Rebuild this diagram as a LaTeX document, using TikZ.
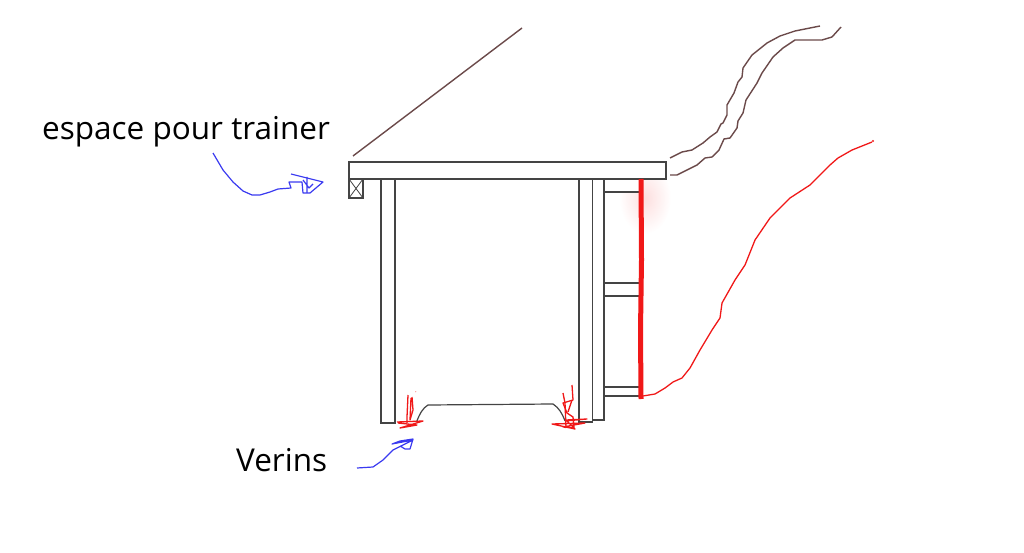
\documentclass[tikz,border=0pt]{standalone}
\usepackage{fontspec}
\setmainfont{Open Sans}
\definecolor{trait}{HTML}{444444}
\definecolor{brun}{HTML}{6B4A4A}
\definecolor{bleu}{HTML}{3A3AF0}
\definecolor{rouge}{HTML}{F01818}
\tikzset{
  bois/.style={draw=trait,line width=1.2pt,fill=white},
  cable/.style={draw=brun,line width=1.4pt,line join=round},
  fleche/.style={draw=bleu,line width=1.2pt,line join=round},
  griffe/.style={draw=rouge,line width=1.3pt,line join=round},
  legende/.style={anchor=base west,inner sep=0pt,font=\fontsize{31.5}{36}\selectfont}
}
\begin{document}
\begin{tikzpicture}[x=1pt,y=-1pt]
    \useasboundingbox (0,0) rectangle (1024,553);
    % halo
    \shade[inner color=rouge!14,outer color=white,draw=none] (645,198) ellipse (26 and 36);
    % couvercle
    \draw[cable] (353,156) -- (522,28);
    % pieds
    \draw[bois] (381,178) rectangle (395,423);
    \draw[bois] (579,179) rectangle (592.5,422);
    \draw[bois] (592.5,179) rectangle (604,420);
    % traverses
    \draw[bois] (604,179) rectangle (641,192);
    \draw[bois] (604,283) rectangle (641,296);
    \draw[bois] (604,387) rectangle (641,396);
    % plateau
    \draw[bois] (349,162) rectangle (666,179);
    \draw[bois] (349,179) rectangle (363,198);
    \draw[draw=trait,line width=0.8pt] (349,179) -- (363,198) (363,179) -- (349,198);
    % verins
    \draw[draw=trait,line width=1.2pt] (416.5,422) .. controls (420,413) and (423,408) .. (428,405) -- (553,404) .. controls (559,408) and (562,413) .. (565,421);
    % montant rouge
    \draw[draw=rouge,line width=5pt] (641,179) -- (641.5,260) -- (640.5,330) -- (641,399);
    % cables
    \draw[cable] (670,158) -- (682,152) -- (692,150) -- (703,143) -- (710,137) -- (717,132) -- (721,124) -- (723,123) -- (727,115) -- (727,105) -- (734,93) -- (738,82) -- (742,77) -- (743,68) -- (752,55) -- (767,43) -- (780,36) -- (795,31) -- (810,28) -- (820,26);
    \draw[cable] (670,175) -- (677,175) -- (697,165) -- (705,158) -- (712,157) -- (719,150) -- (724,139) -- (730,138) -- (737,128) -- (738,121) -- (743,113) -- (746,100) -- (757,83) -- (762,73) -- (773,57) -- (783,48) -- (795,40) -- (822,40) -- (832,37) -- (841,27);
    % fil rouge
    \draw[griffe] (643,396) -- (655,394) -- (665,388) -- (673,382) -- (682,378) -- (690,368) -- (700,350) -- (712,330) -- (720,318) -- (722,303) -- (735,280) -- (745,265) -- (755,240) -- (770,218) -- (790,198) -- (810,185) -- (830,165) -- (838,158) -- (852,150) -- (872,142);
    \fill[rouge] (873,141) circle (1.2);
    % griffes gauche
    \draw[griffe] (408,395) -- (407,417) -- (407,423) (412,397) -- (413,410) -- (410,420) -- (411,398);
    \draw[griffe] (397,422) -- (423,421) -- (400,428) -- (417,425) -- (398,423);
    \fill[rouge!50] (415.7,391.7) circle (0.6);
    % griffes droite
    \draw[griffe] (572,385) -- (573,400) -- (563,403) -- (567,413) -- (573,417) -- (574,428) -- (563,427) -- (585,423) -- (552,424) -- (575,429) -- (566,420) -- (587,419) -- (565,421);
    \draw[griffe] (563,393) -- (565,403) -- (566,428) (572,400) -- (568,412);
    % legendes
    \node[legende] (trainer) at (42,140) {espace pour trainer};
    \node[legende] (verins) at (236,471) {Verins};
    \coordinate (departA) at (213,153);
    \coordinate (departB) at (357,468);
    % fleches
    \draw[fleche] (departA) -- (223,170) -- (233,182) -- (243,191) -- (252,195) -- (260,195) -- (270,192) -- (278,189) -- (291,188) -- (289,182) -- (302,182) -- (303,193) -- (310,193) -- (323,182) -- (303,177) -- (291,174);
    \draw[fleche] (307,177) -- (307,193) (303,180) -- (309,188) -- (313,184);
    \draw[fleche] (departB) -- (373,467) -- (383,460) -- (393,450) -- (413,440) -- (392,444) -- (400,441) -- (413,439) -- (410,449) -- (405,449) -- (400,446);
\end{tikzpicture}
\end{document}
